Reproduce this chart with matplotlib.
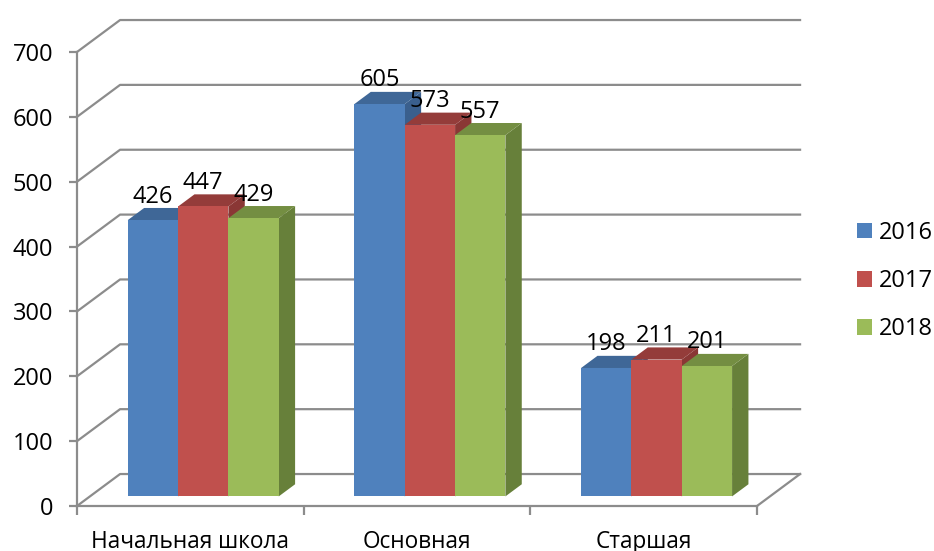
import matplotlib
matplotlib.use("Agg")
import matplotlib.pyplot as plt
from matplotlib.patches import Patch, Polygon

categories = ["Начальная школа", "Основная", "Старшая"]
years = ["2016", "2017", "2018"]
values_2016 = [426, 605, 198]
values_2017 = [447, 573, 211]
values_2018 = [429, 557, 201]
yticks = [0, 100, 200, 300, 400, 500, 600, 700]

front = ["#4F81BD", "#C0504D", "#9BBB59"]
top = ["#3F6797", "#943C3A", "#748E42"]
side = ["#3A5F8D", "#8A3735", "#67803A"]
grid_c = "#8C8C8C"

# oblique depth of the chart box, in data units
DX, DY = 0.19, 49.3
BAR_W = 0.222
D0, D1 = 0.30, 0.68   # bar front/back as fraction of the depth

plt.rcParams["font.family"] = ["Open Sans", "DejaVu Sans"]
fig = plt.figure(figsize=(9.34, 5.51), dpi=100)
ax = fig.add_axes([77 / 934, 45 / 551, 680 / 934, 454 / 551])
ax.set_xlim(0, 3); ax.set_ylim(0, 700)

# walls and gridlines
for v in yticks:
    ax.plot([0, DX, 3 + DX], [v, v + DY, v + DY], c=grid_c, lw=1.6, clip_on=False, zorder=1,
            solid_joinstyle="round")
ax.plot([3, 3 + DX], [0, DY], c=grid_c, lw=1.6, clip_on=False, zorder=1)


def draw_bar(x0, v, i):
    x1 = x0 + BAR_W
    dx, dy = (D1 - D0) * DX, (D1 - D0) * DY
    fx, fy = D0 * DX, D0 * DY
    ax.add_patch(Polygon([(x1 + fx, fy), (x1 + fx + dx, fy + dy), (x1 + fx + dx, v + fy + dy), (x1 + fx, v + fy)],
                         fc=side[i], ec="none", clip_on=False, zorder=3))
    ax.add_patch(Polygon([(x0 + fx, v + fy), (x0 + fx + dx, v + fy + dy), (x1 + fx + dx, v + fy + dy), (x1 + fx, v + fy)],
                         fc=top[i], ec="none", clip_on=False, zorder=3))
    ax.add_patch(Polygon([(x0 + fx, fy), (x1 + fx, fy), (x1 + fx, v + fy), (x0 + fx, v + fy)],
                         fc=front[i], ec="none", clip_on=False, zorder=3))
    ax.annotate(str(v), (x0 + fx + BAR_W / 2, v + fy), xytext=(0, 17), textcoords="offset points",
                ha="center", va="center", fontsize=17, color="black", zorder=5, annotation_clip=False)


for c in range(len(categories)):
    for i, vals in enumerate([values_2016, values_2017, values_2018]):
        draw_bar(c + 0.5 - 1.5 * BAR_W + i * BAR_W, vals[c], i)

for s in ["top", "right"]:
    ax.spines[s].set_visible(False)
for s in ["left", "bottom"]:
    ax.spines[s].set_color(grid_c); ax.spines[s].set_linewidth(1.6)

ax.set_yticks(yticks)
ax.tick_params(axis="y", length=6, width=1.6, color=grid_c, labelsize=17, pad=11)
ax.set_xticks([0, 1, 2, 3], [""] * 4)
ax.tick_params(axis="x", length=6.5, width=1.6, color=grid_c)
ax.set_xticks([0.5, 1.5, 2.5], categories, minor=True)
ax.tick_params(axis="x", which="minor", length=0, labelsize=16.3, pad=17.5)

handles = [Patch(fc=c, ec="none") for c in front]
ax.legend(handles, years, loc="center left", bbox_to_anchor=(857 / 934, 270 / 551),
          bbox_transform=fig.transFigure, frameon=False, fontsize=17,
          handlelength=0.64, handleheight=0.64, handletextpad=0.3, labelspacing=1.02,
          borderpad=0, borderaxespad=0)

fig.savefig("out.png", dpi=100)
